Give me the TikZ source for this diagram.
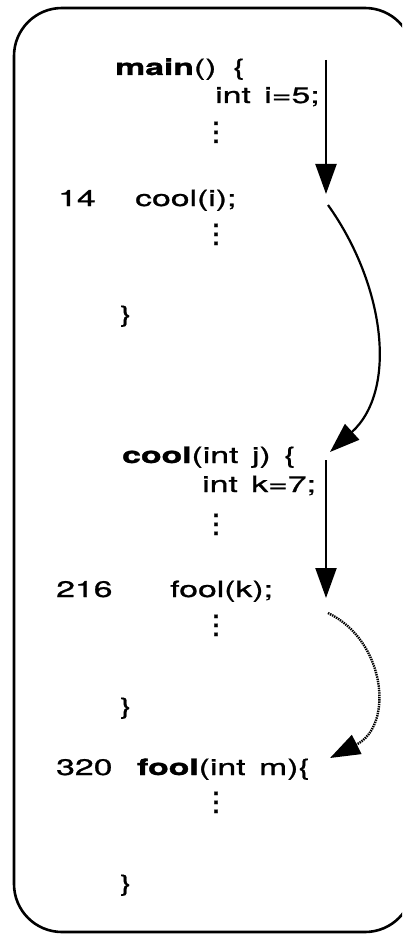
\documentclass[tikz,border=0pt]{standalone}
\usepackage{fontspec}
\setmainfont{TeX Gyre Heros}[FakeBold=0.8, BoldFont={TeX Gyre Heros Bold}, BoldFeatures={FakeBold=1.2}]
\usetikzlibrary{arrows.meta}
\newcommand\vdts{\vbox{\baselineskip9pt\lineskiplimit-20pt\hbox{.}\hbox{.}\hbox{.}}}
\newcommand\widetxt[1]{\scalebox{1.5}[1]{#1}}
\tikzset{
  code/.style={anchor=base west, inner sep=0pt, font=\fontsize{22.5}{26}\selectfont},
  dts/.style={anchor=base, inner sep=0pt, font=\fontsize{22}{26}\selectfont\bfseries},
  flow/.style={line width=2.2pt, -{Triangle[length=30pt,width=21pt]}},
  flowdot/.style={line width=2.4pt, dash pattern=on 1.4pt off 0.9pt, -{Triangle[length=30pt,width=21pt,sep=0pt]}},
}
\begin{document}
\begin{tikzpicture}[x=1pt,y=-1pt]
\useasboundingbox (0,0) rectangle (402,936);
\clip (0,0) rectangle (402,936);
\draw[line width=2.6pt, rounded corners=48pt] (14,8) rectangle (413,932);
% main
\node[code] (mainh) at (115,75) {\widetxt{\textbf{main}()\hspace{0.5em}\{}};
\node[code] (inti) at (215,103) {\widetxt{int\hspace{0.4em}i=5;}};
\node[dts] (d1) at (216,143) {\vdts};
\node[code] (n14) at (58,206) {\widetxt{14}};
\node[code] (calli) at (135,206) {\widetxt{cool(i);}};
\node[dts] (d2) at (216,245) {\vdts};
\node[code] (b1) at (120,322) {\widetxt{\}}};
% cool
\node[code] (coolh) at (122,463) {\widetxt{\textbf{cool}(int\hspace{0.4em}j)\hspace{0.4em}\{}};
\node[code] (intk) at (202,492) {\widetxt{int\hspace{0.4em}k=7;}};
\node[dts] (d3) at (216,535) {\vdts};
\node[code] (n216) at (56,597) {\widetxt{216}};
\node[code] (callk) at (170,597) {\widetxt{fool(k);}};
\node[dts] (d4) at (216,636) {\vdts};
\node[code] (b2) at (120,714) {\widetxt{\}}};
% fool
\node[code] (n320) at (56,775) {\widetxt{320}};
\node[code] (foolh) at (137,775) {\widetxt{\textbf{fool}(int\hspace{0.4em}m)\{}};
\node[dts] (d5) at (216,813) {\vdts};
\node[code] (b3) at (120,891) {\widetxt{\}}};
% arrows
\coordinate (a1s) at (326,60);
\coordinate (a1e) at (326,194);
\coordinate (a2s) at (328,205);
\coordinate (a2e) at (330,452);
\coordinate (a3s) at (326,460);
\coordinate (a3e) at (326,598);
\coordinate (a4s) at (328,613);
\coordinate (a4e) at (330,758);
\draw[flow] (a1s) -- (a1e);
\draw[flow] (a2s) .. controls (385,285) and (398,390) .. (a2e);
\draw[flow] (a3s) -- (a3e);
\draw[flowdot] (a4s) .. controls (385,640) and (395,725) .. (a4e);
\end{tikzpicture}
\end{document}
